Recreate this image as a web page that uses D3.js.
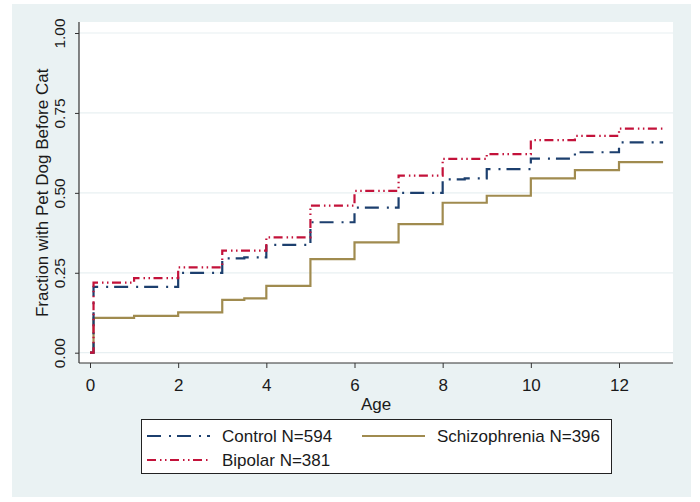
<!DOCTYPE html>
<html>
<head>
<meta charset="utf-8">
<script src="https://cdn.jsdelivr.net/npm/d3@7"></script>
<style>
  html, body { margin: 0; padding: 0; background: #ffffff; }
  svg { display: block; }
  text { font-family: "Liberation Sans", Arial, Helvetica, sans-serif; fill: #1a1a1a; }
</style>
</head>
<body>
<svg id="chart" width="700" height="502"></svg>
<script>
// ---- data ----
const controlAges = [0, 0.08, 2, 3, 3.5, 4, 5, 6, 7, 8, 8.5, 9, 10, 11, 12, 13];
const controlVals = [0, 0.206, 0.250, 0.295, 0.298, 0.337, 0.408, 0.454, 0.500, 0.542, 0.545, 0.574, 0.607, 0.627, 0.658, 0.658];

const bipolarAges = [0, 0.08, 1, 2, 3, 4, 5, 6, 7, 8, 9, 10, 11, 12, 13];
const bipolarVals = [0, 0.219, 0.233, 0.267, 0.319, 0.361, 0.460, 0.506, 0.554, 0.606, 0.621, 0.665, 0.678, 0.701, 0.701];

const schizoAges = [0, 0.08, 1, 2, 3, 3.5, 4, 5, 6, 7, 8, 9, 10, 11, 12, 13];
const schizoVals = [0, 0.109, 0.115, 0.126, 0.165, 0.170, 0.209, 0.293, 0.345, 0.402, 0.469, 0.491, 0.545, 0.571, 0.596, 0.596];

const xTicks = [0, 2, 4, 6, 8, 10, 12];
const yTicks = [0, 0.25, 0.5, 0.75, 1];
const yTickLabels = ["0.00", "0.25", "0.50", "0.75", "1.00"];

const seriesNames = ["Control N=594", "Bipolar N=381", "Schizophrenia N=396"];
const xTitle = "Age";
const yTitle = "Fraction with Pet Dog Before Cat";

// ---- layout ----
const svg = d3.select("#chart");
const plotL = 79, plotR = 673, plotT = 22, plotB = 363;
const x = d3.scaleLinear().domain([0, 12]).range([90, 619]);
const y = d3.scaleLinear().domain([0, 1]).range([352.7, 33]);

const colors = { control: "#1c3f6e", bipolar: "#c3123a", schizo: "#a08b4f" };
const dashes = { control: "14,8,2,6", bipolar: "9,4,1.5,3.5,1.5,3.5", schizo: null };

// background panel
svg.append("rect").attr("x", 12).attr("y", 4).attr("width", 679).attr("height", 493).attr("fill", "#eaf2f3");
// plot region
svg.append("rect").attr("x", plotL).attr("y", plotT).attr("width", plotR - plotL).attr("height", plotB - plotT).attr("fill", "#ffffff");

// gridlines
svg.append("g").selectAll("line").data(yTicks).join("line")
  .attr("x1", plotL).attr("x2", plotR)
  .attr("y1", d => y(d)).attr("y2", d => y(d))
  .attr("stroke", "#e8f0f2").attr("stroke-width", 1.2);

// series
const line = d3.line().curve(d3.curveStepAfter).x(d => x(d[0])).y(d => y(d[1]));
const series = [
  { key: "schizo", ages: schizoAges, vals: schizoVals },
  { key: "control", ages: controlAges, vals: controlVals },
  { key: "bipolar", ages: bipolarAges, vals: bipolarVals }
];
series.forEach(s => {
  const pts = s.ages.map((a, i) => [a, s.vals[i]]);
  svg.append("path").datum(pts)
    .attr("d", line)
    .attr("fill", "none")
    .attr("stroke", colors[s.key])
    .attr("stroke-width", 2.2)
    .attr("stroke-dasharray", dashes[s.key]);
});

// x axis
const xAxis = d3.axisBottom(x).tickValues(xTicks).tickSize(5).tickFormat(d3.format("d"));
const gx = svg.append("g").attr("transform", `translate(0,${plotB})`).call(xAxis);
gx.select(".domain").remove();
gx.selectAll(".tick line").attr("stroke", "#333");
gx.selectAll(".tick text").attr("font-size", 17).attr("dy", null).attr("y", 27.5)
  .style("font-family", '"Liberation Sans", Arial, sans-serif').attr("fill", "#1a1a1a");
svg.append("line").attr("x1", plotL).attr("x2", plotR).attr("y1", plotB).attr("y2", plotB)
  .attr("stroke", "#333").attr("stroke-width", 1.2);

// y axis
const yAxis = d3.axisLeft(y).tickValues(yTicks).tickSize(4).tickFormat((d, i) => yTickLabels[i]);
const gy = svg.append("g").attr("transform", `translate(${plotL},0)`).call(yAxis);
gy.select(".domain").remove();
gy.selectAll(".tick line").attr("stroke", "#333");
gy.selectAll(".tick text")
  .attr("font-size", 15.5)
  .attr("x", null).attr("dy", null)
  .attr("text-anchor", "middle")
  .attr("transform", "translate(-14,0) rotate(-90)")
  .style("font-family", '"Liberation Sans", Arial, sans-serif').attr("fill", "#1a1a1a");
svg.append("line").attr("x1", plotL).attr("x2", plotL).attr("y1", plotT).attr("y2", plotB)
  .attr("stroke", "#333").attr("stroke-width", 1.2);

// titles
svg.append("text").attr("x", (plotL + plotR) / 2).attr("y", 410)
  .attr("text-anchor", "middle").attr("font-size", 17).text(xTitle);
svg.append("text").attr("transform", `translate(47.5,${(y(0) + y(1)) / 2 + 0}) rotate(-90)`)
  .attr("text-anchor", "middle").attr("font-size", 17).text(yTitle);

// legend
const lg = svg.append("g");
lg.append("rect").attr("x", 141.5).attr("y", 419.5).attr("width", 470).attr("height", 54)
  .attr("fill", "#ffffff").attr("stroke", "#222").attr("stroke-width", 1);
const legendItems = [
  { key: "control", name: seriesNames[0], lx: 147, ly: 436 },
  { key: "schizo", name: seriesNames[2], lx: 362, ly: 436 },
  { key: "bipolar", name: seriesNames[1], lx: 147, ly: 460 }
];
legendItems.forEach(it => {
  lg.append("line").attr("x1", it.lx).attr("x2", it.lx + 63).attr("y1", it.ly).attr("y2", it.ly)
    .attr("stroke", colors[it.key]).attr("stroke-width", 2.2)
    .attr("stroke-dasharray", dashes[it.key]);
  lg.append("text").attr("x", it.lx + 75).attr("y", it.ly + 6).attr("font-size", 17).text(it.name);
});
</script>
</body>
</html>
